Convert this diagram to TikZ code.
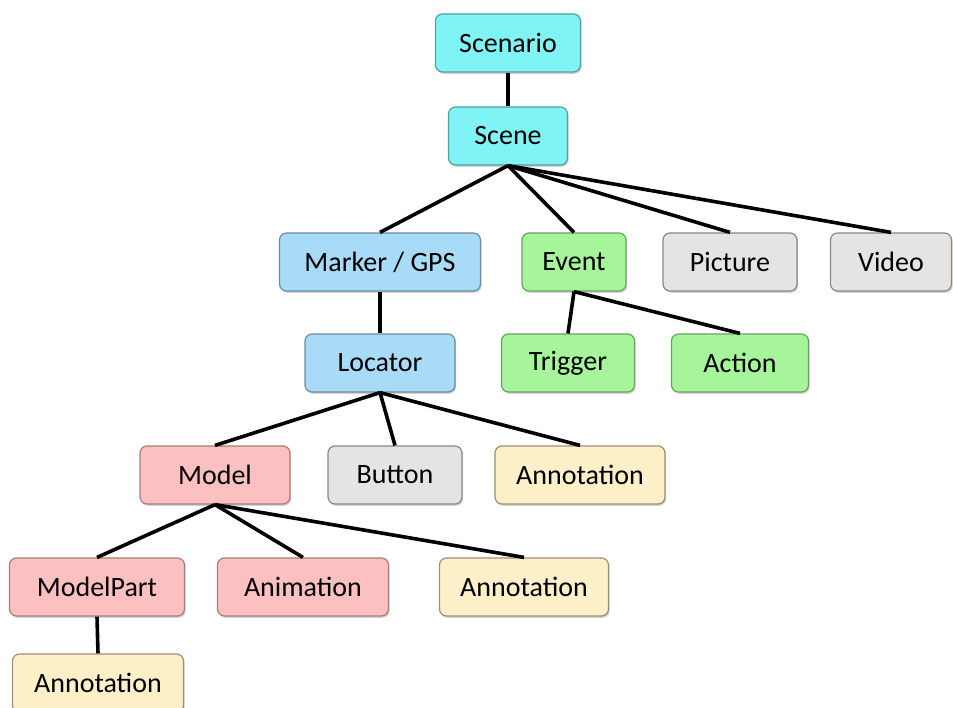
\documentclass[tikz,border=0pt]{standalone}
\usepackage{fontspec}
\setmainfont{Carlito}
\usetikzlibrary{shadows,positioning}

\definecolor{scenecol}{HTML}{80F4F4}
\definecolor{markercol}{HTML}{A8DBF8}
\definecolor{eventcol}{HTML}{A6F59B}
\definecolor{mediacol}{HTML}{E6E3E3}
\definecolor{modelcol}{HTML}{FDC0C0}
\definecolor{notecol}{HTML}{FDF0C8}

\tikzset{
  box/.style={rectangle, rounded corners=7pt, minimum height=58pt, inner sep=0pt,
    line width=1.2pt, font=\fontsize{28}{32}\selectfont,
    drop shadow={shadow xshift=1.2pt, shadow yshift=-1.8pt, opacity=0.35}},
  scenebox/.style={box, fill=scenecol, draw=scenecol!65!black},
  markerbox/.style={box, fill=markercol, draw=markercol!65!black},
  eventbox/.style={box, fill=eventcol, draw=eventcol!65!black},
  mediabox/.style={box, fill=mediacol, draw=mediacol!60!black},
  modelbox/.style={box, fill=modelcol, draw=modelcol!65!black},
  notebox/.style={box, fill=notecol, draw=notecol!60!black},
  link/.style={line width=3.6pt, black}
}

\begin{document}
\begin{tikzpicture}[x=1pt,y=-1pt]
    \useasboundingbox (0,0) rectangle (953,708);

    \node [scenebox,  minimum width=145pt] (scenario)  at (508,43)  {Scenario};
    \node [scenebox,  minimum width=119pt] (scene)     at (508,136) {Scene};

    \node [markerbox, minimum width=201pt] (marker)    at (380,262) {Marker / GPS};
    \node [eventbox,  minimum width=104pt] (event)     at (574,262) {Event};
    \node [mediabox,  minimum width=134pt] (picture)   at (730,262) {Picture};
    \node [mediabox,  minimum width=121pt] (video)     at (891,262) {Video};

    \node [markerbox, minimum width=150pt] (locator)   at (380,363) {Locator};
    \node [eventbox,  minimum width=133pt] (trigger)   at (568,363) {Trigger};
    \node [eventbox,  minimum width=137pt] (action)    at (740,363) {Action};

    \node [modelbox,  minimum width=150pt] (model)     at (215,475) {Model};
    \node [mediabox,  minimum width=134pt] (button)    at (395,475) {Button};
    \node [notebox,   minimum width=170pt] (locnote)   at (580,475) {Annotation};

    \node [modelbox,  minimum width=175pt] (modelpart) at (97,587)  {ModelPart};
    \node [modelbox,  minimum width=171pt] (animation) at (303,587) {Animation};
    \node [notebox,   minimum width=169pt] (modelnote) at (524,587) {Annotation};

    \node [notebox,   minimum width=171pt] (partnote)  at (98,683)  {Annotation};

    % connectors
    \draw [link] (scenario.south) -- (scene.north);
    \foreach \child in {marker,event,picture,video}
        \draw [link] (scene.south) -- (\child.north);
    \draw [link] (marker.south) -- (locator.north);
    \foreach \child in {trigger,action}
        \draw [link] (event.south) -- (\child.north);
    \foreach \child in {model,button,locnote}
        \draw [link] (locator.south) -- (\child.north);
    \foreach \child in {modelpart,animation,modelnote}
        \draw [link] (model.south) -- (\child.north);
    \draw [link] (modelpart.south) -- (partnote.north);
\end{tikzpicture}
\end{document}
